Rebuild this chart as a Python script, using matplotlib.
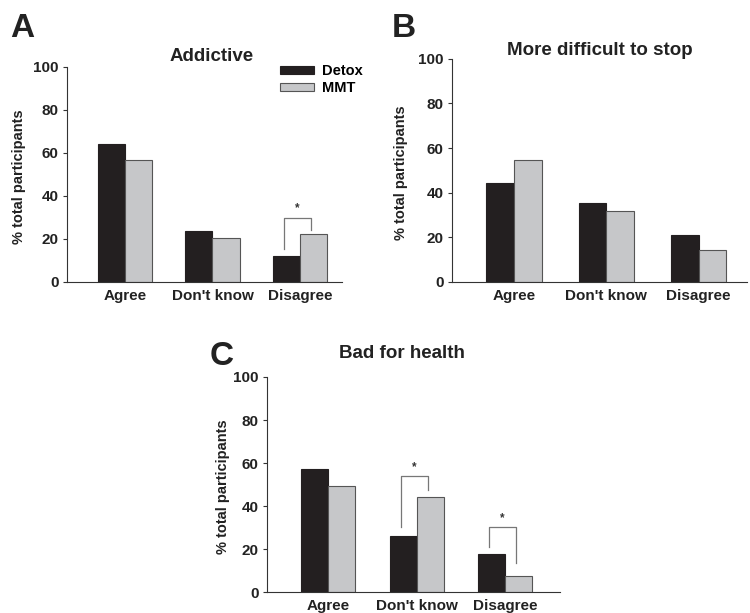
import matplotlib
matplotlib.use('Agg')
import matplotlib.pyplot as plt
import numpy as np

plt.rcParams['font.family'] = ['Liberation Sans', 'DejaVu Sans']
plt.rcParams['font.weight'] = 'bold'

categories = ['Agree', "Don't know", 'Disagree']

addictive_detox = [64.3, 23.7, 12.1]
addictive_mmt = [56.9, 20.6, 22.5]

stop_detox = [44.5, 35.5, 21.0]
stop_mmt = [54.6, 31.6, 14.5]

health_detox = [57.4, 26.2, 17.8]
health_mmt = [49.5, 44.2, 7.4]

DARK = '#231f20'
LIGHT = '#c6c7c9'
EDGE = '#555555'
TXT = '#222222'


def panel(ax, detox, mmt, title, xlim, width, title_x, title_pad, ylab_x, sig=()):
    x = np.arange(len(categories))
    ax.bar(x - width / 2, detox, width, color=DARK, edgecolor=DARK, linewidth=0.8, label='Detox')
    ax.bar(x + width / 2, mmt, width, color=LIGHT, edgecolor=EDGE, linewidth=0.8, label='MMT')
    ax.set_xlim(*xlim)
    ax.set_ylim(0, 100)
    ax.set_yticks(range(0, 101, 20))
    ax.set_xticks(x)
    ax.set_xticklabels(categories, fontsize=11, fontweight='bold', color=TXT)
    ax.tick_params(axis='x', length=0, pad=5)
    ax.tick_params(axis='y', length=3, width=0.8, labelsize=11, pad=3, color='#333333', labelcolor=TXT)
    for lab in ax.get_yticklabels():
        lab.set_fontweight('bold')
    ax.spines['top'].set_visible(False)
    ax.spines['right'].set_visible(False)
    ax.spines['left'].set_color('#333333')
    ax.spines['bottom'].set_color('#333333')
    ax.set_ylabel('% total participants', fontsize=10.5, fontweight='bold', color=TXT)
    ax.yaxis.set_label_coords(ylab_x, 0.49)
    ax.set_title(title, fontsize=13.5, fontweight='bold', pad=title_pad, color=TXT, x=title_x)
    for (i, yl, yh, yr) in sig:
        xl = i - width / 2 - 0.03
        xr = i + width / 2 - 0.03
        ax.plot([xl, xl, xr, xr], [yl, yh, yh, yr], color='#777777', lw=0.9, clip_on=False)
        ax.text((xl + xr) / 2, yh + 1.5, '*', ha='center', va='bottom', fontsize=8.5, color='#333333')


fig = plt.figure(figsize=(7.5, 6.13), dpi=100)

axA = fig.add_axes([0.0893, 0.540, 0.367, 0.351])
panel(axA, addictive_detox, addictive_mmt, 'Addictive', (-0.66, 2.48), 0.31,
      0.524, 4, -0.149, sig=[(2, 15.5, 29.9, 24.0)])
axA.legend(loc='upper right', bbox_to_anchor=(1.076, 1.014), borderaxespad=0, borderpad=0,
           frameon=False, fontsize=10.5, handlelength=2.33, handleheight=0.45,
           labelspacing=0.25, handletextpad=0.55)

axB = fig.add_axes([0.6027, 0.540, 0.393, 0.364])
panel(axB, stop_detox, stop_mmt, 'More difficult to stop', (-0.67, 2.52), 0.30,
      0.5, 2, -0.151)

axC = fig.add_axes([0.356, 0.034, 0.391, 0.351])
panel(axC, health_detox, health_mmt, 'Bad for health', (-0.69, 2.62), 0.305,
      0.46, 14, -0.127, sig=[(1, 30.5, 53.8, 47.3), (2, 21.2, 30.1, 13.5)])

fig.text(0.0133, 0.9396, 'A', fontsize=24, fontweight='bold', color=TXT)
fig.text(0.523, 0.9396, 'B', fontsize=24, fontweight='bold', color=TXT)
fig.text(0.28, 0.4046, 'C', fontsize=24, fontweight='bold', color=TXT)

fig.savefig('out.png', dpi=100)
